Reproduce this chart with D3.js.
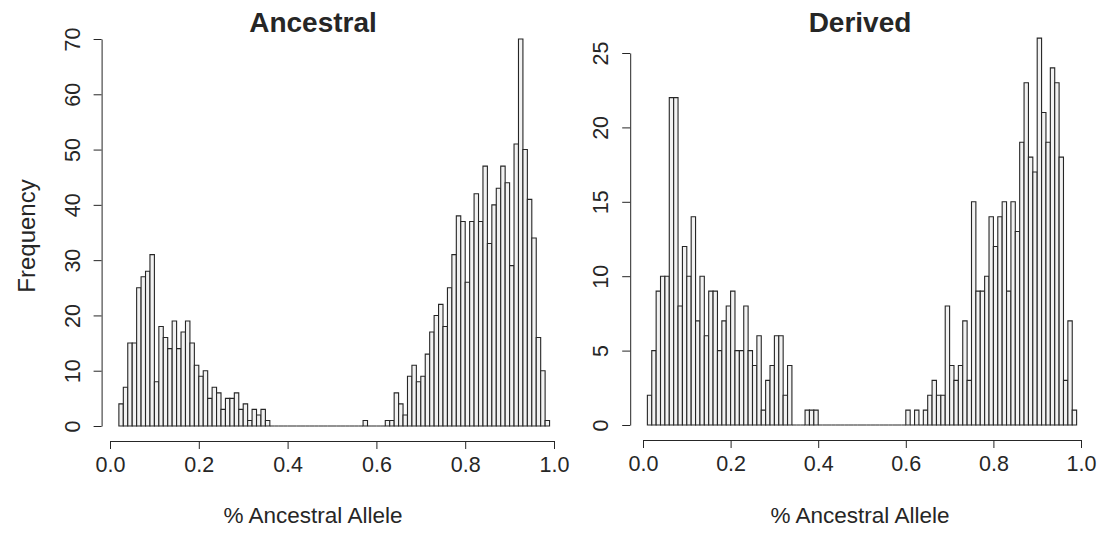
<!DOCTYPE html>
<html>
<head>
<meta charset="utf-8">
<script src="https://cdn.jsdelivr.net/npm/d3@7"></script>
<style>
  html, body { margin: 0; padding: 0; background: #fff; }
  svg { display: block; font-family: "Liberation Sans", Arial, Helvetica, sans-serif; }
</style>
</head>
<body>
<svg id="chart" width="1105" height="533"></svg>
<script>
/* ── Data: histogram counts, bin width 0.01 ───────────────── */
const BIN = 0.01;

// Ancestral: first break at 0.02, last bin 0.98–0.99
const ancestralStart = 0.02;
const ancestralCounts = [
  4, 7, 15, 15, 25, 27, 28, 31, 8, 18, 16, 14, 19, 14, 17, 19, 15, 11, 9, 10,
  5, 7, 6, 3, 5, 5, 6, 3, 4, 1, 3, 2, 3, 1,
  0, 0, 0, 0, 0, 0, 0, 0, 0, 0, 0, 0, 0, 0, 0, 0, 0, 0, 0, 0, 0,
  1, 0, 0, 0, 0,
  1, 1, 6, 4, 2, 9, 11, 8, 9, 13, 17, 20, 22, 18, 25, 31, 38, 37, 26, 37,
  42, 37, 47, 33, 40, 43, 47, 44, 29, 51, 70, 50, 41, 34, 16, 10, 1
];

// Derived: first break at 0.01, last bin 0.98–0.99
const derivedStart = 0.01;
const derivedCounts = [
  2, 5, 9, 10, 10, 22, 22, 8, 12, 10, 14, 7, 10, 6, 9, 9, 5, 7, 8, 9,
  5, 5, 8, 5, 4, 6, 1, 3, 4, 6, 6, 2, 4,
  0, 0, 0,
  1, 1, 1,
  0, 0, 0, 0, 0, 0, 0, 0, 0, 0, 0, 0, 0, 0, 0, 0, 0, 0, 0, 0,
  1, 0, 1, 0, 1,
  2, 3, 2, 2, 8, 4, 3, 4, 7, 3, 15, 9, 9, 10, 14, 12, 14, 15, 9, 15,
  13, 19, 23, 18, 17, 26, 21, 19, 24, 23, 18, 3, 7, 1
];

const xTicks = [0, 0.2, 0.4, 0.6, 0.8, 1.0];
const ancestralYTicks = [0, 10, 20, 30, 40, 50, 60, 70];
const derivedYTicks = [0, 5, 10, 15, 20, 25];

/* ── Panels ────────────────────────────────────────────────── */
const panels = [
  {
    title: 'Ancestral', start: ancestralStart, counts: ancestralCounts,
    yTicks: ancestralYTicks,
    xRange: [110, 554], yRange: [426, 39], yAxisX: 101.6, xAxisY: 441,
    titleX: 313, ylab: true
  },
  {
    title: 'Derived', start: derivedStart, counts: derivedCounts,
    yTicks: derivedYTicks,
    xRange: [643, 1081], yRange: [425, 53], yAxisX: 630.2, xAxisY: 440,
    titleX: 860, ylab: false
  }
];

const svg = d3.select('#chart');
const INK = '#262626';

panels.forEach(p => {
  const x = d3.scaleLinear().domain([0, 1]).range(p.xRange);
  const yMax = p.yTicks[p.yTicks.length - 1];
  const y = d3.scaleLinear().domain([0, yMax]).range(p.yRange);

  const bins = p.counts.map((c, i) => ({
    x0: p.start + i * BIN,
    x1: p.start + (i + 1) * BIN,
    count: c
  }));

  // bars (paths so zero-height bins still draw their outline)
  svg.append('g')
    .selectAll('path')
    .data(bins)
    .join('path')
    .attr('d', d => {
      const a = x(d.x0), b = x(d.x1), y0 = y(0), y1 = y(d.count);
      return `M${a},${y0}V${y1}H${b}V${y0}Z`;
    })
    .attr('fill', '#f2f2f2')
    .attr('stroke', INK)
    .attr('stroke-width', 1.1);

  // x axis
  const gx = svg.append('g')
    .attr('transform', `translate(0,${p.xAxisY})`)
    .call(d3.axisBottom(x).tickValues(xTicks).tickFormat(d3.format('.1f'))
      .tickSize(8).tickSizeOuter(0).tickPadding(8));
  gx.select('.domain').attr('stroke', INK);
  gx.selectAll('.tick line').attr('stroke', INK);
  gx.selectAll('.tick text')
    .attr('fill', INK)
    .attr('font-size', 21.5)
    .attr('font-family', null);

  // y axis
  const gy = svg.append('g')
    .attr('transform', `translate(${p.yAxisX},0)`)
    .call(d3.axisLeft(y).tickValues(p.yTicks).tickSize(8).tickSizeOuter(0));
  gy.select('.domain').attr('stroke', INK);
  gy.selectAll('.tick line').attr('stroke', INK);
  gy.selectAll('.tick text')
    .attr('fill', INK)
    .attr('font-size', 21.5)
    .attr('font-family', null)
    .attr('x', null).attr('dy', null)
    .attr('text-anchor', 'middle')
    .attr('transform', 'translate(-22,0) rotate(-90)');

  // main title
  svg.append('text')
    .attr('x', p.titleX).attr('y', 32)
    .attr('text-anchor', 'middle')
    .attr('font-size', 28).attr('font-weight', 'bold')
    .attr('fill', INK)
    .text(p.title);

  // x label
  svg.append('text')
    .attr('x', p.titleX).attr('y', 523)
    .attr('text-anchor', 'middle')
    .attr('font-size', 22.5)
    .attr('fill', INK)
    .text('% Ancestral Allele');

  if (p.ylab) {
    svg.append('text')
      .attr('transform', `translate(35,236) rotate(-90)`)
      .attr('text-anchor', 'middle')
      .attr('font-size', 24)
      .attr('fill', INK)
      .text('Frequency');
  }
});
</script>
</body>
</html>
